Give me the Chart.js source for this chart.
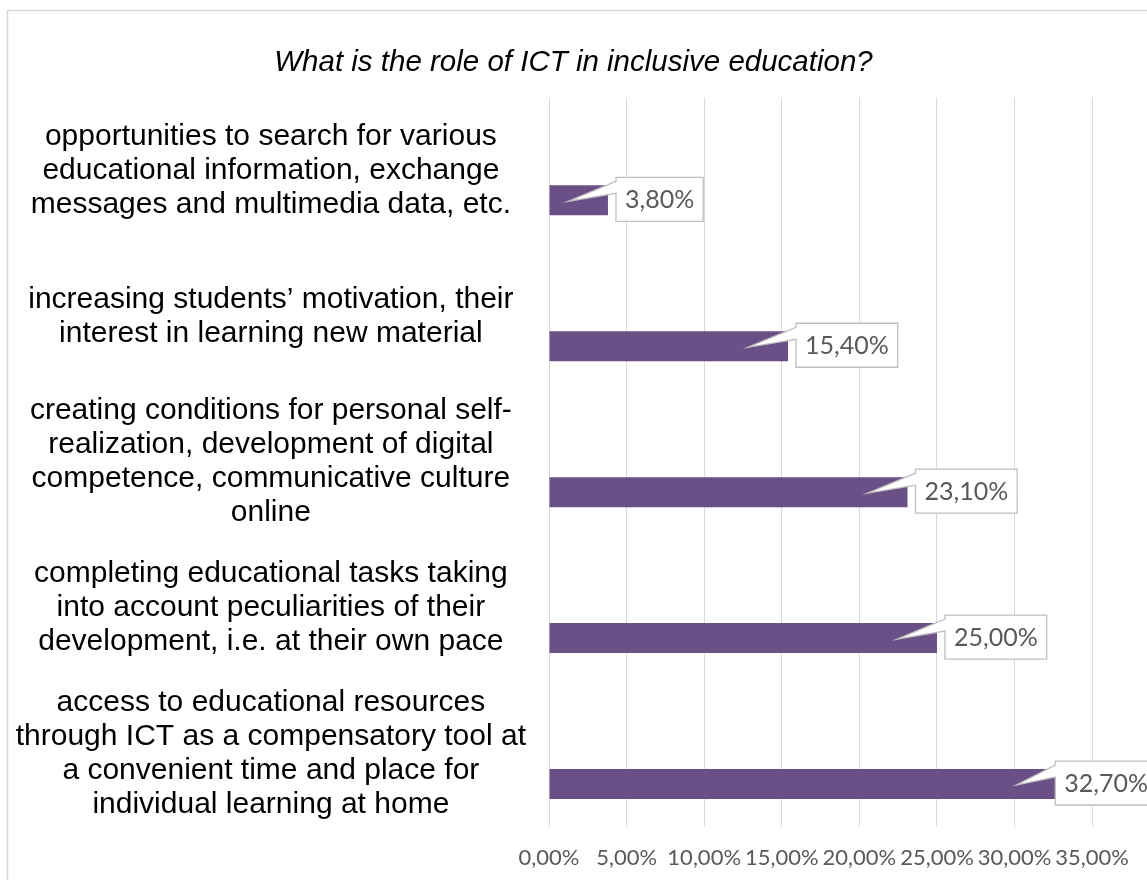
<!DOCTYPE html>
<html>
<head>
<meta charset="utf-8">
<script src="https://cdn.jsdelivr.net/npm/chart.js@4.4.1/dist/chart.umd.min.js"></script>
<style>
    html, body { margin: 0; padding: 0; background: #ffffff; }
    #wrap { width: 1147px; height: 880px; }
</style>
</head>
<body>
<div id="wrap"><canvas id="ictChart"></canvas></div>
<script>
const chartTitle = 'What is the role of ICT in inclusive education?';

const roleLabels = [
    ['opportunities to search for various', 'educational information, exchange', 'messages and multimedia data, etc.'],
    ['increasing students\u2019 motivation, their', 'interest in learning new material'],
    ['creating conditions for personal self-', 'realization, development of digital', 'competence, communicative culture', 'online'],
    ['completing educational tasks taking', 'into account peculiarities of their', 'development, i.e. at their own pace'],
    ['access to educational resources', 'through ICT as a compensatory tool at', 'a convenient time and place for', 'individual learning at home']
];

const roleShares = [3.8, 15.4, 23.1, 25.0, 32.7];
// second series of the group is empty, so the bar sits low in each band
const emptyShares = [null, null, null, null, null];

const axisMax = 35;
const axisStep = 5;

function pct(v) {
    return v.toFixed(2).replace('.', ',') + '%';
}

// light frame round the whole chart
const frame = {
    id: 'frame',
    beforeDraw(chart) {
        const ctx = chart.ctx;
        ctx.save();
        ctx.fillStyle = '#ffffff';
        ctx.fillRect(0, 0, chart.width, chart.height);
        ctx.strokeStyle = '#d9d9d9';
        ctx.lineWidth = 1.5;
        ctx.strokeRect(7.5, 10.5, chart.width + 20, chart.height + 20);
        ctx.restore();
    }
};

// wrapped category names, centred as a block left of the plot
// (drawn here so their height does not squeeze the plot area)
const categoryNames = {
    id: 'categoryNames',
    afterDraw(chart) {
        const ctx = chart.ctx;
        const scale = chart.scales.y;
        const lineH = 34;
        ctx.save();
        ctx.font = '30px "Liberation Sans"';
        ctx.fillStyle = '#000000';
        ctx.textAlign = 'center';
        ctx.textBaseline = 'middle';
        let widest = 0;
        roleLabels.forEach(lines => lines.forEach(s => {
            widest = Math.max(widest, ctx.measureText(s).width);
        }));
        const cx = scale.right - 23 - widest / 2;
        roleLabels.forEach((lines, i) => {
            const cy = scale.getPixelForTick(i);
            const y0 = cy - (lines.length - 1) * lineH / 2;
            lines.forEach((s, k) => ctx.fillText(s, cx, y0 + k * lineH));
        });
        ctx.restore();
    }
};

// callout boxes with a wedge pointing into each bar
const callouts = {
    id: 'callouts',
    afterDatasetsDraw(chart) {
        const ctx = chart.ctx;
        const meta = chart.getDatasetMeta(1);
        ctx.save();
        ctx.font = '25px Lato';
        ctx.textBaseline = 'middle';
        ctx.textAlign = 'center';
        meta.data.forEach((bar, i) => {
            const txt = pct(roleShares[i]);
            const w = ctx.measureText(txt).width + 18;
            const h = bar.height + 14;
            let left = bar.x + 8;
            left = Math.min(left, chart.width + 10 - w);
            const top = bar.y - bar.height / 2 - 8;
            const tipX = bar.x - 40;
            const tipY = bar.y + 1;

            ctx.beginPath();
            ctx.moveTo(left, top);
            ctx.lineTo(left + w, top);
            ctx.lineTo(left + w, top + h);
            ctx.lineTo(left, top + h);
            ctx.lineTo(left, top + 16);
            ctx.lineTo(tipX, tipY);
            ctx.lineTo(left, top + 4);
            ctx.closePath();
            ctx.fillStyle = '#ffffff';
            ctx.fill();
            ctx.strokeStyle = '#bfbfbf';
            ctx.lineWidth = 1.3;
            ctx.stroke();

            ctx.fillStyle = '#595959';
            ctx.fillText(txt, left + w / 2, top + h / 2 + 1);
        });
        ctx.restore();
    }
};

const ctxRole = document.getElementById('ictChart').getContext('2d');
new Chart(ctxRole, {
    type: 'bar',
    data: {
        labels: roleLabels,
        datasets: [{
            label: '',
            data: emptyShares,
            backgroundColor: '#6a5087'
        }, {
            label: 'Share',
            data: roleShares,
            backgroundColor: '#6a5087'
        }]
    },
    options: {
        indexAxis: 'y',
        responsive: true,
        maintainAspectRatio: false,
        animation: false,
        datasets: {
            bar: { categoryPercentage: 0.822, barPercentage: 0.5 }
        },
        layout: {
            padding: { left: 53, right: 53, top: 0, bottom: 8 }
        },
        plugins: {
            legend: { display: false },
            tooltip: { enabled: false },
            title: {
                display: true,
                text: chartTitle,
                color: '#000000',
                font: { family: 'Liberation Sans', size: 29.5, style: 'italic', weight: 'normal', lineHeight: 1.2 },
                padding: { top: 45, bottom: 17 }
            }
        },
        scales: {
            x: {
                min: 0,
                max: axisMax,
                afterFit: scale => { scale.height = 45; },
                ticks: {
                    stepSize: axisStep,
                    color: '#595959',
                    font: { family: 'Lato', size: 22, lineHeight: 1.2 },
                    padding: 18,
                    maxRotation: 0,
                    minRotation: 0,
                    autoSkip: false,
                    callback: v => pct(v)
                },
                grid: { color: '#d9d9d9', lineWidth: 1, drawTicks: false },
                border: { display: false }
            },
            y: {
                afterFit: scale => { scale.width = 496; },
                ticks: { display: false },
                grid: { display: false, drawTicks: false },
                border: { display: false }
            }
        }
    },
    plugins: [frame, categoryNames, callouts]
});
</script>
</body>
</html>
